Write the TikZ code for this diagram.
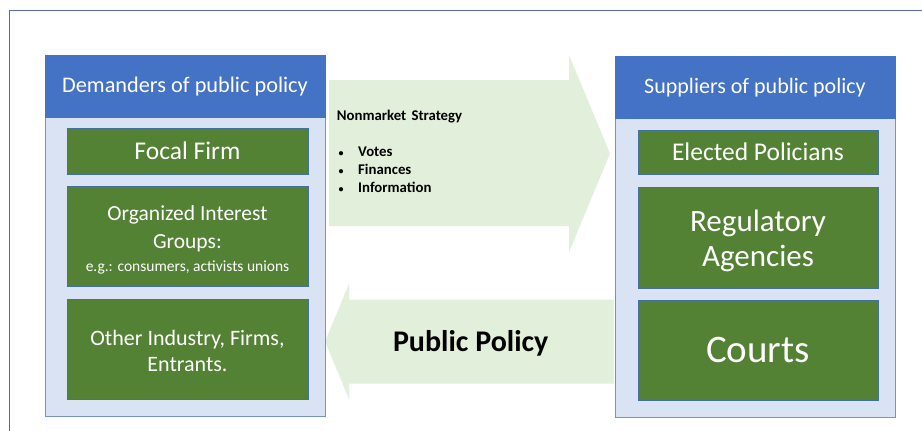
\documentclass[tikz,border=0pt]{standalone}
\usepackage{fontspec}
\setmainfont{Carlito}
\definecolor{framecol}{HTML}{5B63C0}
\definecolor{headblue}{HTML}{4472C4}
\definecolor{panelfill}{HTML}{DAE3F3}
\definecolor{panelline}{HTML}{7393C9}
\definecolor{boxgreen}{HTML}{548235}
\definecolor{boxline}{HTML}{41719C}
\definecolor{arrowfill}{HTML}{E2EFDA}
\newcommand{\smallbullet}{\makebox[19.5pt][l]{\fontsize{10}{10}\selectfont•}}
\begin{document}
\begin{tikzpicture}[x=1pt,y=-1pt,
  header/.style={fill=headblue, draw=headblue, line width=0.6pt, text=white,
    anchor=north west, minimum width=280pt, minimum height=62pt, inner sep=0pt, outer sep=0pt},
  panel/.style={fill=panelfill, draw=panelline, line width=0.8pt,
    anchor=north west, minimum width=280pt, minimum height=300pt, inner sep=0pt, outer sep=0pt},
  actor/.style={fill=boxgreen, draw=boxline, line width=0.8pt, text=white, align=center,
    anchor=north west, inner sep=0pt, outer sep=0pt},
  flow/.style={fill=arrowfill, draw=none},
  listitem/.style={anchor=base west, inner sep=0pt, font=\fontsize{14.8}{18}\selectfont\bfseries}
]
\useasboundingbox (0,0) rectangle (922,431);
\fill[white] (0,0) rectangle (922,431);
\draw[framecol, line width=1pt] (9.5,431) -- (9.5,10.5) -- (922,10.5);

% flow arrows between the two sides
\fill[flow] (329,80) -- (569,80) -- (569,55) -- (610,153.5) -- (569,252) -- (569,226) -- (329,226) -- cycle;
\fill[flow] (613.5,299.5) -- (349,299.5) -- (349,284) -- (325,341.5) -- (349,399) -- (349,383.5) -- (613.5,383.5) -- cycle;

% demand side
\node[panel] (lpanel) at (45.5,116) {};
\node[header, font=\fontsize{22.3}{26}\selectfont, yshift=-1.5pt] (lhead) at (45,54) {Demanders of public policy};
\node[actor, minimum width=241pt, minimum height=46pt, font=\fontsize{25.5}{30}\selectfont] (focal) at (67,128) {Focal Firm};
\node[actor, minimum width=241pt, minimum height=100pt, font=\fontsize{21.5}{28}\selectfont] (groups) at (67,186)
  {\rule{0pt}{22pt}Organized Interest\\Groups:\\[-5pt]{\fontsize{15.5}{18}\selectfont e.g.: consumers, activists unions}};
\node[actor, minimum width=241pt, minimum height=100pt, font=\fontsize{22}{26.5}\selectfont] (others) at (67,299)
  {\rule{0pt}{19pt}Other Industry, Firms,\\Entrants.};

% supply side
\node[panel] (rpanel) at (615,117) {};
\node[header, font=\fontsize{22}{26}\selectfont, yshift=-1.5pt] (rhead) at (615,55) {Suppliers of public policy};
\node[actor, minimum width=240pt, minimum height=44pt, font=\fontsize{25.5}{30}\selectfont] (elected) at (638,130) {Elected Policians};
\node[actor, minimum width=240pt, minimum height=101pt, font=\fontsize{31}{35}\selectfont] (agencies) at (638,187) {\rule{0pt}{28pt}Regulatory\\Agencies};
\node[actor, minimum width=240pt, minimum height=100pt, font=\fontsize{39}{44}\selectfont] (courts) at (638,300) {Courts};

% arrow labels
\node[listitem] (nmhead) at (336.7,120) {Nonmarket\hspace{0.35em}Strategy};
\node[listitem] (votes) at (338.5,156.5) {\smallbullet Votes};
\node[listitem] (finances) at (338.5,174.5) {\smallbullet Finances};
\node[listitem] (information) at (338.5,192.5) {\smallbullet Information};
\node[anchor=base, inner sep=0pt, font=\fontsize{30}{34}\selectfont\bfseries] (policy) at (470.7,351.7) {Public Policy};
\end{tikzpicture}
\end{document}
